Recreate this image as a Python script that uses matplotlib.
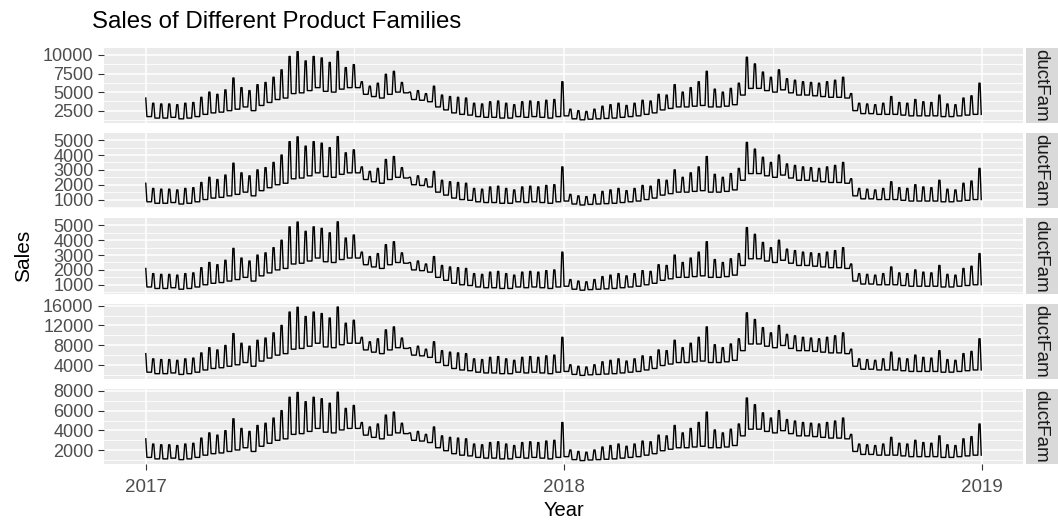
import matplotlib
matplotlib.use("Agg")
import matplotlib.pyplot as plt
import matplotlib.dates as mdates
import numpy as np
import pandas as pd

plt.rcParams["font.family"] = ["Liberation Sans", "DejaVu Sans"]

# weekly weekend peak and weekday trough values (scale 1.0)
weekly_high = [
    4200, 3500, 3400, 3400, 3300, 3500, 3600, 4300, 5000, 4700,
    5300, 6900, 5600, 5200, 6000, 6300, 7000, 8000, 9800, 10450,
    9200, 9800, 9600, 9000, 10480, 8300, 8700, 6400, 5800, 6200,
    7400, 7800, 6300, 5000, 5200, 4800, 5800, 4600, 4400, 4300,
    4200, 3500, 3400, 3700, 3800, 3500, 3300, 3700, 3800, 3700,
    3900, 4000, 6400, 2700, 2500, 2400, 2700, 3100, 3300, 3500,
    3200, 3500, 3900, 3800, 4700, 4600, 6000, 5000, 5600, 6400,
    7800, 5400, 5000, 5500, 6200, 9700, 8800, 7700, 7000, 8000,
    6800, 6600, 6400, 6300, 6200, 6400, 6600, 7000, 4800, 3500,
    3400, 3300, 3500, 4400, 3600, 3500, 4000, 3700, 3600, 4600,
    3400, 3300, 4200, 4500, 6200,
]
weekly_low = [
    1700, 1500, 1500, 1600, 1400, 1500, 1700, 2000, 2200, 2300,
    2500, 2700, 3000, 2500, 3200, 3600, 4000, 4200, 4800, 4900,
    5200, 5600, 5100, 5000, 5400, 5600, 5600, 4700, 4400, 4200,
    4700, 5000, 4900, 4000, 3900, 3700, 3000, 2600, 2200, 2000,
    1900, 1700, 1600, 1600, 1500, 1500, 1700, 1600, 1700, 1600,
    1500, 1700, 1800, 1400, 1270, 1350, 1400, 1450, 1500, 1600,
    1700, 1800, 2000, 2200, 2600, 2800, 3000, 3000, 3100, 3200,
    3000, 3000, 3100, 3300, 4600, 5500, 5500, 5200, 5000, 5300,
    4900, 4600, 4600, 4500, 4400, 4300, 4300, 4200, 2500, 2100,
    2100, 2000, 2000, 2000, 1900, 1800, 1800, 1800, 1800, 1700,
    1700, 1800, 1900, 2000, 2000,
]
# relative level of each product family against the top panel
family_scale = [1.0, 0.5, 0.5, 1.5, 0.75]
family_ticks = [
    [2500, 5000, 7500, 10000],
    [1000, 2000, 3000, 4000, 5000],
    [1000, 2000, 3000, 4000, 5000],
    [4000, 8000, 12000, 16000],
    [2000, 4000, 6000, 8000],
]
strip_label = "ductFam"
start_date = pd.Timestamp("2017-01-01")
end_date = pd.Timestamp("2018-12-31")
year_ticks = ["2017-01-01", "2018-01-01", "2019-01-01"]
year_labels = ["2017", "2018", "2019"]

W, H = 1058, 522
PANEL_L, PANEL_R = 104, 1023
STRIP_L, STRIP_R = 1026, 1058
TOP, BOTTOM, GAP = 48, 464, 10
N = len(family_scale)
PH = (BOTTOM - TOP - GAP * (N - 1)) / N


def rect(left, top, right, bottom):
    return [left / W, 1 - bottom / H, (right - left) / W, (bottom - top) / H]


def weekly_points():
    # weekend peak (Sat + Sun), drop on Monday, flat through Friday
    dates, values = [], []
    for k, (hi, lo) in enumerate(zip(weekly_high, weekly_low)):
        week = start_date + pd.Timedelta(days=7 * k)
        for offset, val in ((-1, hi), (0, hi), (1, lo), (5, lo)):
            day = min(week + pd.Timedelta(days=offset), end_date)
            if day < start_date or (dates and day <= dates[-1]):
                continue
            dates.append(day)
            values.append(val)
    return mdates.date2num(dates), np.array(values, dtype=float)


x_num, base = weekly_points()
x0, x1 = mdates.date2num(start_date), mdates.date2num(end_date)
xpad = 0.05 * (x1 - x0)
year_num = mdates.date2num(pd.to_datetime(year_ticks))
mid_num = mdates.date2num(pd.to_datetime(["2017-07-02", "2018-07-02"]))

fig = plt.figure(figsize=(W / 100, H / 100), dpi=100)

for i, (scale, ticks) in enumerate(zip(family_scale, family_ticks)):
    top = TOP + i * (PH + GAP)
    bot = top + PH
    ax = fig.add_axes(rect(PANEL_L, top, PANEL_R, bot))
    y = base * scale
    ypad = 0.05 * (y.max() - y.min())
    ylo, yhi = y.min() - ypad, y.max() + ypad
    ax.set_facecolor("#EBEBEB")
    step = ticks[1] - ticks[0]
    minors = [t - step / 2 for t in ticks] + [ticks[-1] + step / 2]
    for m in minors:
        if ylo < m < yhi:
            ax.axhline(m, color="white", lw=0.6, zorder=0)
    for t in ticks:
        ax.axhline(t, color="white", lw=1.1, zorder=0)
    for m in mid_num:
        ax.axvline(m, color="white", lw=0.6, zorder=0)
    for t in year_num:
        ax.axvline(t, color="white", lw=1.1, zorder=0)
    ax.plot(x_num, y, color="black", lw=1.0, zorder=2)
    ax.set_xlim(x0 - xpad, x1 + xpad)
    ax.set_ylim(ylo, yhi)
    ax.set_yticks(ticks)
    ax.set_yticklabels([str(t) for t in ticks])
    for s in ax.spines.values():
        s.set_visible(False)
    ax.tick_params(axis="y", length=4, width=0.8, color="#333333",
                   labelsize=13, labelcolor="#4D4D4D", pad=3.5)
    ax.set_xticks(year_num)
    if i == N - 1:
        ax.set_xticklabels(year_labels)
        ax.tick_params(axis="x", length=4.5, width=0.8, color="#333333",
                       labelsize=13.5, labelcolor="#4D4D4D", pad=6)
    else:
        ax.tick_params(axis="x", length=0, labelbottom=False)

    sax = fig.add_axes(rect(STRIP_L, top, STRIP_R, bot))
    sax.set_facecolor("#D9D9D9")
    sax.set_xticks([])
    sax.set_yticks([])
    for s in sax.spines.values():
        s.set_visible(False)
    sax.text(0.45, 0.5, strip_label, rotation=270, ha="center", va="center",
             fontsize=13.5, color="#1A1A1A", transform=sax.transAxes, clip_on=True)

fig.text(92 / W, 1 - 22 / H, "Sales of Different Product Families",
         fontsize=17.3, ha="left", va="center", color="black")
fig.text(24 / W, 1 - (TOP + BOTTOM) / 2 / H, "Sales", rotation=90,
         fontsize=15, ha="center", va="center", color="black")
fig.text((PANEL_L + PANEL_R) / 2 / W, 1 - 510 / H, "Year",
         fontsize=14.5, ha="center", va="center", color="black")

fig.savefig("out.png", dpi=100)
